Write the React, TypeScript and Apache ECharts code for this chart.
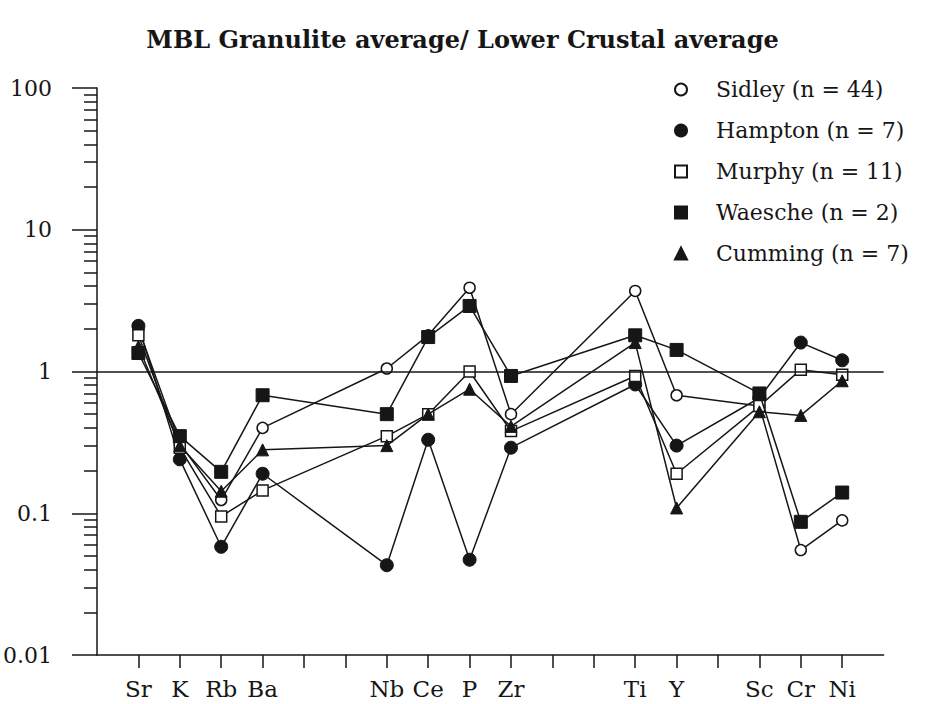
import { useEffect, useRef } from 'react';
import * as echarts from 'echarts';

const titleText = 'MBL Granulite average/ Lower Crustal average';
// x slots: first and last slots are the plot edges (no tick), empty slots are unlabelled ticks
const xSlots = ['', 'Sr', 'K', 'Rb', 'Ba', ' ', ' ', 'Nb', 'Ce', 'P', 'Zr', ' ', ' ', 'Ti', 'Y', ' ', 'Sc', 'Cr', 'Ni', ''];
const elements = ['Sr', 'K', 'Rb', 'Ba', 'Nb', 'Ce', 'P', 'Zr', 'Ti', 'Y', 'Sc', 'Cr', 'Ni'];
const yMajorTicks = [0.01, 0.1, 1, 10, 100];

const sidley = [2.0, 0.31, 0.124, 0.4, 1.05, 1.8, 3.9, 0.5, 3.7, 0.68, 0.57, 0.055, 0.089];
const hampton = [2.1, 0.24, 0.058, 0.19, 0.043, 0.33, 0.047, 0.29, 0.81, 0.3, 0.65, 1.6, 1.2];
const murphy = [1.8, 0.29, 0.095, 0.145, 0.35, 0.5, 1.0, 0.38, 0.93, 0.19, 0.57, 1.03, 0.95];
const waesche = [1.35, 0.35, 0.196, 0.68, 0.5, 1.75, 2.9, 0.93, 1.8, 1.42, 0.7, 0.087, 0.14];
const cumming = [1.5, 0.3, 0.143, 0.28, 0.3, 0.5, 0.75, 0.41, 1.6, 0.109, 0.52, 0.49, 0.86];

const seriesDefs = [
  { name: 'Sidley (n = 44)', values: sidley, symbol: 'circle', open: true, size: 11 },
  { name: 'Hampton (n = 7)', values: hampton, symbol: 'circle', open: false, size: 13 },
  { name: 'Murphy (n = 11)', values: murphy, symbol: 'rect', open: true, size: 11 },
  { name: 'Waesche (n = 2)', values: waesche, symbol: 'rect', open: false, size: 13 },
  { name: 'Cumming (n = 7)', values: cumming, symbol: 'triangle', open: false, size: 12 },
];

const FONT = 'DejaVu Serif';
const INK = '#161616';

export default function App() {
  const ref = useRef<HTMLDivElement>(null);
  useEffect(() => {
    const chart = echarts.init(ref.current as HTMLDivElement, null, { renderer: 'svg' });
    const minorLog: number[] = [];
    for (let d = -2; d < 2; d++) {
      for (let k = 2; k <= 9; k++) minorLog.push(d + Math.log10(k));
    }
    const lastSlot = xSlots.length - 1;
    const option: any = {
      animation: false,
      backgroundColor: '#ffffff',
      title: {
        text: titleText,
        left: 'center',
        top: 22,
        textStyle: { fontFamily: FONT, fontSize: 24, fontWeight: 'bold', color: INK },
      },
      legend: {
        orient: 'vertical',
        left: 669,
        top: 73,
        itemWidth: 12,
        itemHeight: 12,
        itemGap: 18,
        textStyle: { fontFamily: FONT, fontSize: 22, color: INK, lineHeight: 23, padding: [0, 0, 0, 24] },
        data: seriesDefs.map((s) => ({ name: s.name, icon: s.symbol })),
      },
      grid: { left: 97, top: 88, width: 786.6, bottom: 49 },
      xAxis: {
        type: 'category',
        data: xSlots,
        boundaryGap: false,
        axisLine: { show: true, onZero: false, lineStyle: { color: INK, width: 1.5 } },
        axisTick: {
          show: true,
          inside: false,
          length: 13,
          interval: (index: number) => index > 0 && index < lastSlot,
          lineStyle: { color: INK, width: 1.5 },
        },
        axisLabel: {
          show: true,
          interval: 0,
          margin: 22,
          fontFamily: FONT,
          fontSize: 23,
          color: INK,
          formatter: (v: string) => v.trim(),
        },
        splitLine: { show: false },
      },
      yAxis: [
        {
          type: 'log',
          logBase: 10,
          min: 0.01,
          max: 100,
          axisLine: { show: true, onZero: false, lineStyle: { color: INK, width: 1.5 } },
          axisTick: {
            show: true,
            inside: false,
            length: 25,
            customValues: yMajorTicks,
            lineStyle: { color: INK, width: 1.5 },
          },
          axisLabel: {
            margin: 45,
            fontFamily: FONT,
            fontSize: 22,
            color: INK,
            customValues: yMajorTicks,
            formatter: (v: number) => String(v),
          },
          splitLine: { show: false },
        },
        {
          type: 'value',
          min: -2,
          max: 2,
          interval: 1,
          position: 'left',
          axisLine: { show: false, onZero: false },
          axisTick: {
            show: true,
            inside: false,
            length: 13,
            customValues: minorLog,
            lineStyle: { color: INK, width: 1.5 },
          },
          axisLabel: { show: false },
          splitLine: { show: false },
        },
      ],
      series: seriesDefs.map((s, idx) => ({
        name: s.name,
        type: 'line',
        yAxisIndex: 0,
        data: elements.map((el, i) => [el, s.values[i]]),
        symbol: s.symbol,
        symbolSize: s.size,
        showSymbol: true,
        itemStyle: s.open
          ? { color: '#ffffff', borderColor: INK, borderWidth: 1.5 }
          : { color: INK, borderColor: INK, borderWidth: 1 },
        lineStyle: { color: INK, width: 1.5 },
        z: 2 + idx,
        markLine:
          idx === 0
            ? {
                silent: true,
                symbol: 'none',
                label: { show: false },
                lineStyle: { color: INK, width: 1.5, type: 'solid' },
                data: [{ yAxis: 1 }],
              }
            : undefined,
      })),
    };
    chart.setOption(option);
    return () => chart.dispose();
  }, []);
  return <div ref={ref} style={{ position: 'fixed', left: 0, top: 0, width: 925, height: 704 }} />;
}
